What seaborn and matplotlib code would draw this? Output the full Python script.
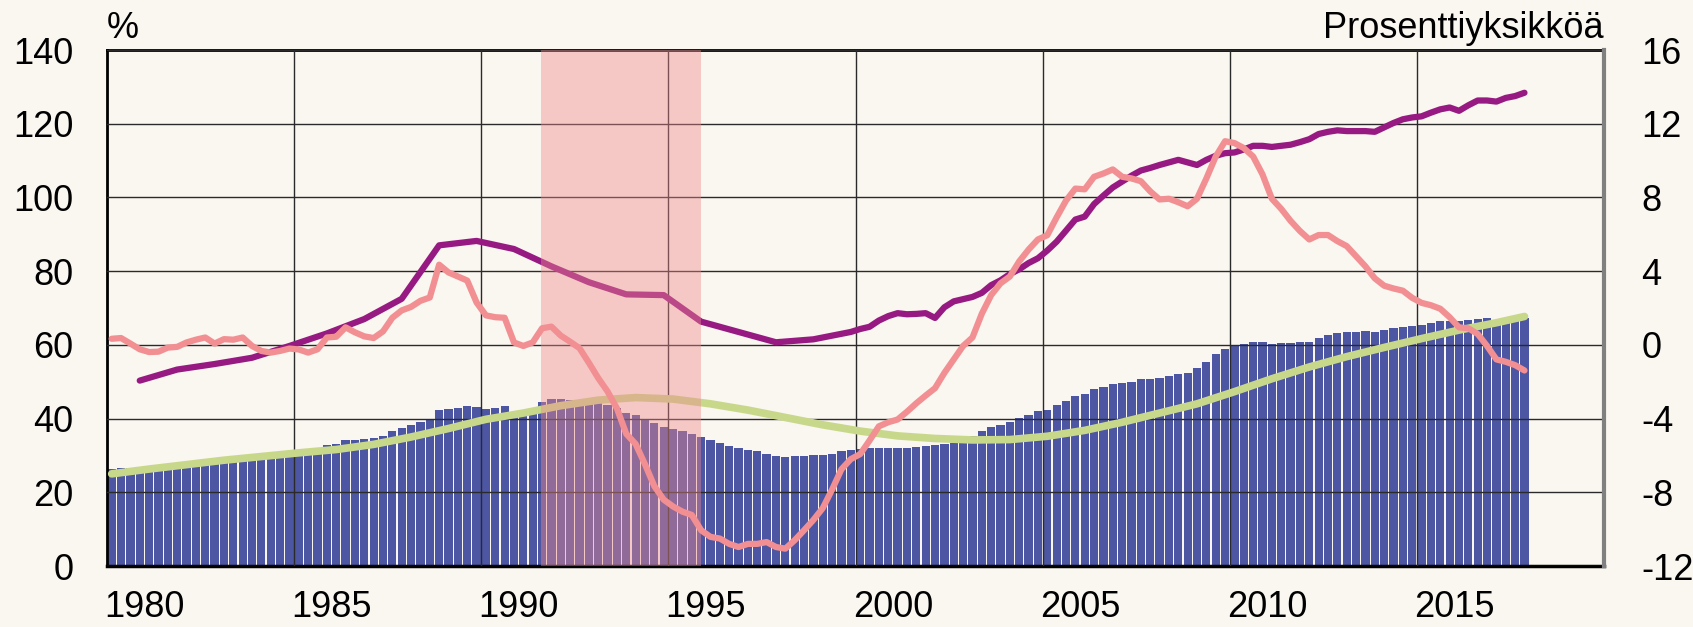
import numpy as np
import pandas as pd
import matplotlib.pyplot as plt
import seaborn as sns

# ============================================
# Style
# ============================================
sns.set_style("ticks")
plt.rcParams['font.family'] = ['Liberation Sans', 'DejaVu Sans']
plt.rcParams['axes.unicode_minus'] = False
plt.rcParams['text.color'] = 'black'
plt.rcParams['xtick.color'] = 'black'
plt.rcParams['ytick.color'] = 'black'

bg = '#FAF6F0'
bar_col = '#4C56A2'
trend_col = '#C8D88A'
debt_col = '#961A82'
gap_col = '#F28F92'
shade_col = '#F0898E'

# ============================================
# Data
# ============================================
first_year = 1979
n_quarters = 152   # 1979Q1 - 2016Q4

# Bars, left axis (%), quarterly
bar_values = [
    26.2, 26.5, 26.6, 26.7,  26.9, 27.2, 27.5, 27.9,  28.2, 28.5, 28.8, 29.0,
    29.2, 29.5, 29.7, 29.9,  30.0, 30.1, 30.2, 30.3,  30.3, 30.5, 30.7, 32.8,
    33.2, 34.2, 34.3, 34.4,  34.8, 35.3, 36.5, 37.5,  38.2, 39.1, 39.9, 42.2,
    42.6, 43.0, 43.3, 43.1,  42.6, 42.9, 43.4, 41.3,  41.8, 42.8, 44.5, 45.2,
    45.2, 45.1, 44.9, 44.7,  44.2, 43.6, 42.8, 41.4,  40.9, 39.8, 38.8, 37.6,
    37.1, 36.5, 35.9, 35.0,  34.1, 33.5, 32.5, 32.0,  31.6, 31.1, 30.3, 29.8,
    29.7, 29.8, 29.9, 30.0,  30.0, 30.5, 31.2, 31.5,  31.7, 32.0, 32.0, 32.0,
    32.0, 32.1, 32.3, 32.6,  32.9, 33.2, 33.3, 33.4,  35.3, 36.5, 37.6, 38.3,
    39.0, 40.2, 41.0, 42.0,  42.2, 43.6, 44.8, 46.2,  46.6, 47.9, 48.7, 49.4,
    49.6, 50.0, 50.7, 50.8,  51.0, 51.6, 52.1, 52.3,  53.7, 55.4, 57.4, 59.0,
    59.9, 60.3, 60.7, 60.8,  60.1, 60.4, 60.6, 60.9,  60.9, 61.8, 62.6, 63.1,
    63.5, 63.6, 63.7, 63.5,  64.0, 64.5, 64.9, 65.2,  65.4, 65.8, 66.4, 66.6,
    66.6, 66.8, 67.0, 67.2,  66.8, 66.9, 67.0, 67.3,
]

# Green trend line, left axis (%), read once a year (Q1) + last quarter
trend_values = [
    25.0, 26.3, 27.5, 28.7, 29.7, 30.7, 31.6, 33.0, 35.0, 37.3,
    39.8, 41.5, 43.5, 45.0, 45.7, 45.3, 44.0, 42.3, 40.3, 38.3,
    36.6, 35.3, 34.6, 34.2, 34.3, 35.2, 36.8, 39.0, 41.5, 44.0,
    47.3, 50.8, 54.0, 56.8, 59.3, 61.7, 64.0, 66.0, 67.7,
]

# Purple line, left axis (%): annual (Q4) 1979-1998, then quarterly 1999-2016
debt_annual = [
    50.3, 53.3, 54.8, 56.5, 59.7, 63.1, 67.0, 72.5, 87.0, 88.2,
    86.0, 81.3, 77.0, 73.7, 73.5, 66.3, 63.5, 60.7, 61.5, 63.5,
]
debt_quarterly = [
    64.3, 64.9, 66.6, 67.8,  68.6, 68.3, 68.4, 68.6,  67.3, 70.2, 71.8, 72.4,
    73.0, 74.1, 76.2, 77.5,  79.2, 80.5, 82.2, 83.5,  85.6, 88.0, 91.0, 94.0,
    94.8, 98.2, 100.5, 102.7,  104.3, 105.9, 107.3, 108.0,  108.8, 109.5, 110.2, 109.5,
    108.8, 110.2, 111.3, 112.0,  112.2, 113.0, 114.0, 114.0,  113.7, 114.0, 114.3, 115.0,
    115.8, 117.2, 117.8, 118.2,  118.0, 118.0, 118.0, 117.8,  119.0, 120.2, 121.2, 121.7,
    122.0, 123.0, 123.9, 124.4,  123.5, 125.0, 126.3, 126.3,  126.0, 127.0, 127.5, 128.4,
]

# Pink line, right axis (percentage points), quarterly
gap_values = [
    0.33, 0.37, 0.07, -0.24,  -0.39, -0.37, -0.15, -0.11,  0.13, 0.28, 0.40, 0.07,
    0.31, 0.28, 0.40, -0.06,  -0.33, -0.42, -0.33, -0.20,  -0.25, -0.42, -0.24, 0.40,
    0.44, 0.95, 0.68, 0.46,  0.37, 0.73, 1.47, 1.87,  2.06, 2.39, 2.57, 4.35,
    3.93, 3.71, 3.49, 2.30,  1.60, 1.50, 1.47, 0.13,  -0.06, 0.13, 0.90, 0.99,
    0.50, 0.17, -0.18, -0.97,  -1.80, -2.53, -3.45, -4.83,  -5.38, -6.48, -7.67, -8.40,
    -8.77, -9.05, -9.23, -10.06,  -10.42, -10.51, -10.80, -10.97,  -10.80, -10.80, -10.70, -10.97,
    -11.06, -10.60, -10.06, -9.50,  -8.86, -7.85, -6.75, -6.20,  -5.93, -5.19, -4.42, -4.20,
    -4.05, -3.63, -3.17, -2.75,  -2.35, -1.52, -0.79, -0.06,  0.40, 1.69, 2.70, 3.34,
    3.71, 4.53, 5.17, 5.72,  5.95, 6.92, 7.83, 8.48,  8.44, 9.12, 9.30, 9.52,
    9.12, 9.03, 8.88, 8.33,  7.89, 7.93, 7.74, 7.52,  7.93, 9.03, 10.22, 11.05,
    10.95, 10.68, 10.22, 9.25,  7.93, 7.38, 6.73, 6.18,  5.72, 5.96, 5.96, 5.63,
    5.36, 4.81, 4.26, 3.61,  3.21, 3.06, 2.94, 2.55,  2.28, 2.15, 1.96, 1.50,
    0.95, 0.90, 0.59, -0.06,  -0.79, -0.92, -1.10, -1.39,
]

crisis_start, crisis_end = 1990.6, 1994.87
label_years = [1980, 1985, 1990, 1995, 2000, 2005, 2010, 2015]
grid_years = [1984, 1989, 1994, 1999, 2004, 2009, 2014]

# positions on the time axis (quarter centres)
quarter_x = first_year + (np.arange(n_quarters) + 0.5) / 4
trend_x = list(first_year + np.arange(len(trend_values) - 1) + 0.125) + [quarter_x[-1]]
debt_x = list(first_year + np.arange(len(debt_annual)) + 0.875) + \
    list(quarter_x[-len(debt_quarterly):])

df_bars = pd.DataFrame({'quarter': quarter_x, 'ratio': bar_values})

# ============================================
# Plot
# ============================================
fig = plt.figure(figsize=(16.93, 6.27), dpi=100, facecolor=bg)
ax = fig.add_axes([107 / 1693, 61 / 627, 1497 / 1693, 516 / 627])
ax.set_facecolor(bg)

sns.barplot(data=df_bars, x='quarter', y='ratio', native_scale=True,
            width=0.88, color=bar_col, saturation=1, errorbar=None,
            linewidth=0, ax=ax, zorder=1)
sns.lineplot(x=trend_x, y=trend_values, ax=ax, color=trend_col,
             linewidth=5.5, zorder=3, solid_capstyle='round')
sns.lineplot(x=debt_x, y=debt_annual + debt_quarterly, ax=ax, color=debt_col,
             linewidth=4.5, zorder=3, solid_capstyle='round')
ax.axvspan(crisis_start, crisis_end, color=shade_col, alpha=0.42, lw=0, zorder=4)

ax.set_xlim(1979, 2019)
ax.set_ylim(0, 140)
ax.set_yticks(range(0, 141, 20))
ax.set_xticks(label_years)
ax.set_xticklabels([str(y) for y in label_years])
ax.set_xticks(grid_years, minor=True)
ax.set_axisbelow(False)
ax.yaxis.grid(True, color='#2a2a2a', lw=1.0, zorder=2.5)
ax.xaxis.grid(True, which='minor', color='#2a2a2a', lw=1.0, zorder=2.5)
ax.xaxis.grid(False, which='major')
ax.set_xlabel('')
ax.set_ylabel('')
ax.tick_params(axis='y', labelsize=26, pad=24, length=0)
ax.tick_params(axis='x', which='both', labelsize=26, pad=17, length=0)

for side in ['left', 'top']:
    ax.spines[side].set_color('black')
    ax.spines[side].set_linewidth(2)
ax.spines['bottom'].set_color('black')
ax.spines['bottom'].set_linewidth(2.5)
ax.spines['right'].set_visible(False)

# right axis: percentage points
ax2 = ax.twinx()
sns.lineplot(x=quarter_x, y=gap_values, ax=ax2, color=gap_col,
             linewidth=4.5, zorder=5, solid_capstyle='round')
ax2.set_ylim(-12, 16)
ax2.set_yticks(range(-12, 17, 4))
ax2.set_ylabel('')
ax2.tick_params(axis='y', labelsize=26, pad=27, length=0)
for side in ['left', 'top', 'bottom']:
    ax2.spines[side].set_visible(False)
ax2.spines['right'].set_color('#808080')
ax2.spines['right'].set_linewidth(3)

fig.text(107 / 1693, 1 - 38 / 627, '%', fontsize=26, ha='left', va='baseline')
fig.text(1604 / 1693, 1 - 38 / 627, 'Prosenttiyksikköä', fontsize=26,
         ha='right', va='baseline')

plt.savefig('out.png', dpi=100, facecolor=bg)
